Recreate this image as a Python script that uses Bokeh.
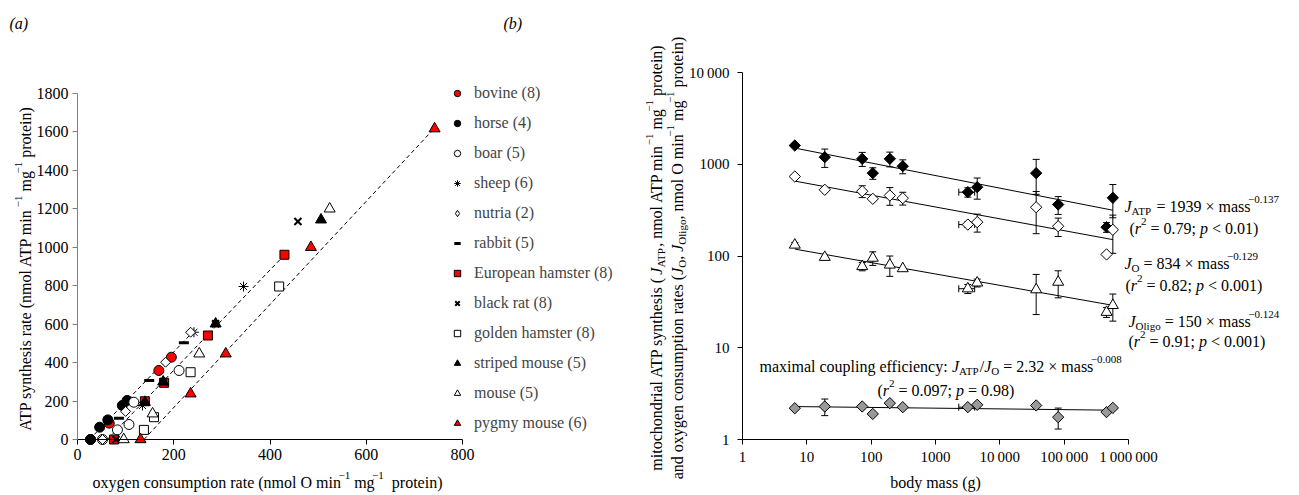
import numpy as np
from bokeh.plotting import figure
from bokeh.models import (Range1d, FixedTicker, Label, Legend, LegendItem, LinearAxis,
                          LogAxis, Whisker, TeeHead, ColumnDataSource)
from bokeh.layouts import row
from bokeh.embed import file_html
from bokeh.resources import INLINE

# ---------------- panel (a) data ----------------
bovine_x = [27, 66, 169, 195]
bovine_y = [0, 85, 359, 428]
horse_x = [27, 46, 63, 93, 103]
horse_y = [0, 64, 102, 177, 203]
boar_x = [52, 83, 107, 117, 211]
boar_y = [0, 50, 78, 194, 359]
sheep_x = [135, 242, 345]
sheep_y = [177, 558, 796]
nutria_x = [52, 100, 183, 235]
nutria_y = [0, 146, 402, 558]
rabbit_x = [86, 149, 221]
rabbit_y = [111, 307, 503]
euhamster_x = [76, 140, 180, 271, 430]
euhamster_y = [0, 199, 295, 541, 961]
blackrat_x = [80, 178, 287, 458]
blackrat_y = [0, 300, 602, 1134]
goldhamster_x = [138, 159, 235, 419]
goldhamster_y = [50, 116, 350, 796]
stripedmouse_x = [140, 178, 287, 506]
stripedmouse_y = [194, 300, 602, 1143]
mouse_x = [96, 156, 253, 524]
mouse_y = [0, 134, 446, 1200]
pygmy_x = [131, 235, 308, 485, 742]
pygmy_y = [0, 238, 446, 1000, 1617]
species_labels = ["bovine (8)", "horse (4)", "boar (5)", "sheep (6)", "nutria (2)",
                  "rabbit (5)", "European hamster (8)", "black rat (8)",
                  "golden hamster (8)", "striped mouse (5)", "mouse (5)", "pygmy mouse (6)"]

fit_x_start = [25, 62, 138]
fit_x_end = [240, 430, 742]
fit_y_start = [0, 0, 0]
fit_y_end = [560, 960, 1620]

x_ticks_a = [0, 200, 400, 600, 800]
y_ticks_a = [0, 200, 400, 600, 800, 1000, 1200, 1400, 1600, 1800]

# ---------------- panel (b) data ----------------
mass = [6.5, 19, 72.6, 106, 195, 310, 3180, 4450, 36700, 80700, 456000, 571000]
mass_err = [0, 0, 0, 0, 0, 0, 880, 0, 0, 0, 0, 0]
j_atp = [1600, 1194, 1146, 800, 1146, 952, 496, 562, 800, 364, 206, 431]
j_atp_err = [0, 270, 200, 115, 210, 165, 58, 146, 330, 80, 25, 170]
j_o = [735, 527, 508, 420, 457, 427, 220, 234, 340, 211, 104, 193]
j_o_err = [0, 0, 75, 0, 100, 68, 15, 52, 165, 48, 0, 86]
j_oligo = [132, 97, 77, 95, 80, 73, 44, 51, 43, 52, 24.4, 29]
j_oligo_err = [8, 0, 8, 16, 20, 0, 5, 5, 20, 17, 3, 9.5]
coupling = [2.19, 2.29, 2.29, 1.9, 2.49, 2.25, 2.25, 2.39, 2.35, 1.75, 1.99, 2.21]
coupling_err = [0, 0.47, 0, 0, 0, 0, 0, 0, 0, 0.45, 0, 0]
fit_coef = [1939, 834, 150, 2.32]
fit_exp = [-0.137, -0.129, -0.124, -0.008]

x_ticks_b = [1, 10, 100, 1000, 10000, 100000, 1000000]
x_labels_b = ["1", "10", "100", "1000", "10\u2009000", "100\u2009000", "1\u2009000\u2009000"]
y_ticks_b = [1, 10, 100, 1000, 10000]
y_labels_b = ["1", "10", "100", "1000", "10\u2009000"]

# ---------------- layout (pixels) ----------------
FONT = "Liberation Serif"
H = 495
WA, WB = 640, 659
A_L, A_R, A_T, A_B = 77, 462, 93, 439          # panel (a) axes box, in page pixels
B_L, B_R, B_T, B_B = 742 - WA, 1128 - WA, 72, 439  # panel (b) axes box, in its canvas

# Times / Liberation Serif advance widths (per 1000 em)
TR = {' ': 250, '(': 333, ')': 333, ',': 250, '-': 333, '.': 250, '/': 278, ':': 278,
      ';': 278, '<': 564, '=': 564, '\u00d7': 564, '\u2212': 564, '\u00a0': 250}
for _d in '0123456789':
    TR[_d] = 500
TR.update(dict(zip('ABCDEFGHIJKLMNOPQRSTUVWXYZ',
                   [722, 667, 667, 722, 611, 556, 722, 722, 333, 389, 722, 611, 889, 722,
                    722, 556, 722, 667, 556, 611, 722, 722, 944, 722, 722, 611])))
TR.update(dict(zip('abcdefghijklmnopqrstuvwxyz',
                   [444, 500, 444, 500, 444, 333, 500, 500, 278, 278, 500, 278, 778, 500,
                    500, 500, 500, 333, 389, 278, 500, 500, 722, 500, 500, 444])))
TI = dict(TR)
TI.update({'J': 444, 'p': 500, 'r': 389, 'a': 500, 'b': 500})


def rich(p, segs, px, py, size=16, angle=0.0, align="left"):
    """Place a run of text segments; px, py are canvas pixels (py = baseline, from top)."""
    x, y = px, H - py
    small = round(size * 0.7)

    def sw(t, k):
        fs = small if k in ("sub", "sup") else size
        tbl = TI if k == "i" else TR
        return sum(tbl.get(c, 500) for c in t) * fs / 1000.0

    total = sum(sw(t, k) for t, k in segs)
    d = -total / 2.0 if align == "center" else 0.0
    for t, k in segs:
        fs = small if k in ("sub", "sup") else size
        shift = -0.25 * size if k == "sub" else (0.42 * size if k == "sup" else 0.0)
        if k == "sup" and t.startswith("\u2212"):
            d -= 2.5
        lead = len(t) - len(t.lstrip(' '))
        d += sw(t[:lead], k)
        core = t.strip(' ')
        if angle == 0:
            lx, ly = x + d, y + shift
        else:
            lx, ly = x - shift, y + d
        if core:
            p.add_layout(Label(x=lx, y=ly, x_units="screen", y_units="screen", text=core,
                               angle=angle, text_font=FONT, text_font_size=f"{fs}px",
                               text_font_style="italic" if k == "i" else "normal",
                               text_baseline="alphabetic", text_align="left",
                               text_color="black"))
        d += sw(t[lead:], k)


def style_axis(ax, color="black", label_size="16px", standoff=4):
    ax.axis_line_color = color
    ax.major_tick_line_color = color
    ax.minor_tick_line_color = None
    ax.major_tick_out = 5
    ax.major_tick_in = 0
    ax.major_label_standoff = standoff
    ax.major_label_text_font = FONT
    ax.major_label_text_font_size = label_size
    ax.major_label_text_color = "black"


def bare(p):
    p.xgrid.visible = False
    p.ygrid.visible = False
    p.outline_line_color = None
    p.background_fill_color = "white"
    p.border_fill_color = "white"


# ---------------- panel (a) ----------------
sx_a = (A_R - A_L) / (x_ticks_a[-1] - x_ticks_a[0])
sy_a = (A_B - A_T) / (y_ticks_a[-1] - y_ticks_a[0])
pa = figure(width=WA, height=H, min_border=0, title=None,
            x_range=Range1d(-A_L / sx_a, (WA - A_L) / sx_a),
            y_range=Range1d(-(H - A_B) / sy_a, A_B / sy_a),
            x_axis_location=None, y_axis_location=None,
            output_backend="svg", toolbar_location=None)
bare(pa)
xa = LinearAxis(fixed_location=0, bounds=(0, 800), ticker=FixedTicker(ticks=x_ticks_a))
ya = LinearAxis(fixed_location=0, bounds=(0, 1800), ticker=FixedTicker(ticks=y_ticks_a))
style_axis(xa, "black")
style_axis(ya, "#808080")
pa.add_layout(xa, "below")
pa.add_layout(ya, "left")

pa.segment(x0=fit_x_start, y0=fit_y_start, x1=fit_x_end, y1=fit_y_end,
           line_color="black", line_width=1, line_dash="4 3")

series_a = [
    (bovine_x, bovine_y, dict(marker="circle", size=10, fill_color="red", line_color="black")),
    (horse_x, horse_y, dict(marker="circle", size=10, fill_color="black", line_color="black")),
    (boar_x, boar_y, dict(marker="circle", size=10, fill_color="white", line_color="black")),
    (sheep_x, sheep_y, dict(marker="asterisk", size=10, line_color="black", line_width=1)),
    (nutria_x, nutria_y, dict(marker="square", angle=np.pi / 4, size=7, fill_color="white", line_color="black")),
    (rabbit_x, rabbit_y, dict(marker="dash", size=10, line_color="black", line_width=3)),
    (euhamster_x, euhamster_y, dict(marker="square", size=9, fill_color="red", line_color="black")),
    (blackrat_x, blackrat_y, dict(marker="x", size=10, line_color="black", line_width=2)),
    (goldhamster_x, goldhamster_y, dict(marker="square", size=9, fill_color="white", line_color="black")),
    (stripedmouse_x, stripedmouse_y, dict(marker="triangle", size=11, fill_color="black", line_color="black")),
    (mouse_x, mouse_y, dict(marker="triangle", size=11, fill_color="white", line_color="black")),
    (pygmy_x, pygmy_y, dict(marker="triangle", size=11, fill_color="red", line_color="black")),
]
items = []
for (xs, ys, st), lab in zip(series_a, species_labels):
    r = pa.scatter(xs, ys, **st)
    if st.get("angle"):
        # legend glyphs are drawn unrotated: show a diamond marker there instead
        r = pa.scatter(xs, ys, marker="diamond", size=12, fill_color="white",
                       line_color="black", visible=False)
    items.append(LegendItem(label=lab, renderers=[r]))

legend = Legend(items=items, location=(449, H - 433), orientation="vertical", glyph_width=16,
                glyph_height=20, label_height=20, spacing=10, label_standoff=9, padding=0,
                margin=0, border_line_color=None, background_fill_alpha=0,
                inactive_fill_alpha=0,
                label_text_font=FONT, label_text_font_size="16px")
pa.add_layout(legend)

rich(pa, [("ATP synthesis rate (nmol ATP min", "n"), ("\u22121", "sup"), (" mg", "n"),
          ("\u22121", "sup"), (" protein)", "n")], 25, 266, angle=np.pi / 2, align="center")
rich(pa, [("oxygen consumption rate (nmol O min", "n"), ("\u22121", "sup"), (" mg", "n"),
          ("\u22121", "sup"), ("\u00a0 protein)", "n")], (A_L + A_R) / 2, 482, align="center")
rich(pa, [("(a)", "i")], 9, 23)
rich(pa, [("(b)", "i")], 503, 23)

# ---------------- panel (b) ----------------
dec_x = (B_R - B_L) / 6.0
dec_y = (B_B - B_T) / 4.0
pb = figure(width=WB, height=H, min_border=0, title=None,
            x_axis_type="log", y_axis_type="log",
            x_range=Range1d(10 ** (-B_L / dec_x), 10 ** (6 + (WB - B_R) / dec_x)),
            y_range=Range1d(10 ** (-(H - B_B) / dec_y), 10 ** (4 + B_T / dec_y)),
            x_axis_location=None, y_axis_location=None,
            output_backend="svg", toolbar_location=None)
bare(pb)
xb = LogAxis(fixed_location=1, bounds=(1, 1e6), ticker=FixedTicker(ticks=x_ticks_b))
yb = LogAxis(fixed_location=1, bounds=(1, 1e4), ticker=FixedTicker(ticks=y_ticks_b))
xb.major_label_overrides = dict(zip(x_ticks_b, x_labels_b))
yb.major_label_overrides = dict(zip(y_ticks_b, y_labels_b))
style_axis(xb, "black", "15px", 4)
style_axis(yb, "black", "15px", 8)
pb.add_layout(xb, "below")
pb.add_layout(yb, "left")

vals = [j_atp, j_o, j_oligo, coupling]
errs = [j_atp_err, j_o_err, j_oligo_err, coupling_err]
vx, vlo, vhi = [], [], []
hy, hlo, hhi = [], [], []
for v, e in zip(vals, errs):
    for m, val, er, mer in zip(mass, v, e, mass_err):
        if er > 0:
            vx.append(m); vlo.append(val - er); vhi.append(val + er)
        if mer > 0:
            hy.append(val); hlo.append(m - mer); hhi.append(m + mer)

pb.add_layout(Whisker(source=ColumnDataSource(dict(x=vx, lo=vlo, hi=vhi)), base="x",
                      lower="lo", upper="hi", dimension="height", level="underlay",
                      line_color="black", line_width=1,
                      upper_head=TeeHead(size=7, line_color="black", line_width=1),
                      lower_head=TeeHead(size=7, line_color="black", line_width=1)))
pb.add_layout(Whisker(source=ColumnDataSource(dict(y=hy, lo=hlo, hi=hhi)), base="y",
                      lower="lo", upper="hi", dimension="width", level="underlay",
                      line_color="black", line_width=1,
                      upper_head=TeeHead(size=7, line_color="black", line_width=1),
                      lower_head=TeeHead(size=7, line_color="black", line_width=1)))

mlo, mhi = min(mass), max(mass)
for a, b in zip(fit_coef, fit_exp):
    pb.line([mlo, mhi], [a * mlo ** b, a * mhi ** b], line_color="black", line_width=1)

pb.scatter(mass, j_atp, marker="square", angle=np.pi / 4, size=8, fill_color="black", line_color="black")
pb.scatter(mass, j_o, marker="square", angle=np.pi / 4, size=8, fill_color="white", line_color="black")
pb.scatter(mass, j_oligo, marker="triangle", size=11, fill_color="white", line_color="black")
pb.scatter(mass, coupling, marker="square", angle=np.pi / 4, size=8, fill_color="#999999", line_color="black")

rich(pb, [("mitochondrial ATP synthesis (", "n"), ("J", "i"), ("ATP", "sub"),
          (", nmol ATP min", "n"), ("\u22121", "sup"), (" mg", "n"), ("\u22121", "sup"),
          (" protein)", "n")], 656 - WA, 255, angle=np.pi / 2, align="center")
rich(pb, [("and oxygen consumption rates (", "n"), ("J", "i"), ("O", "sub"), (", ", "n"),
          ("J", "i"), ("Oligo", "sub"), (", nmol O min", "n"), ("\u22121", "sup"), (" mg", "n"),
          ("\u22121", "sup"), (" protein)", "n")], 677 - WA, 255, angle=np.pi / 2, align="center")
rich(pb, [("body mass (g)", "n")], (B_L + B_R) / 2, 482, align="center")

rich(pb, [("J", "i"), ("ATP", "sub"), (" = 1939 \u00d7 mass", "n"), ("\u22120.137", "sup")], 1124 - WA, 206)
rich(pb, [("(", "n"), ("r", "i"), ("2", "sup"), (" = 0.79; ", "n"), ("p", "i"), (" < 0.01)", "n")], 1129 - WA, 228)
rich(pb, [("J", "i"), ("O", "sub"), (" = 834 \u00d7 mass", "n"), ("\u22120.129", "sup")], 1124 - WA, 263)
rich(pb, [("(", "n"), ("r", "i"), ("2", "sup"), (" = 0.82; ", "n"), ("p", "i"), (" < 0.001)", "n")], 1125 - WA, 285)
rich(pb, [("J", "i"), ("Oligo", "sub"), (" = 150 \u00d7 mass", "n"), ("\u22120.124", "sup")], 1128 - WA, 321)
rich(pb, [("(", "n"), ("r", "i"), ("2", "sup"), (" = 0.91; ", "n"), ("p", "i"), (" < 0.001)", "n")], 1128 - WA, 341)
rich(pb, [("maximal coupling efficiency: ", "n"), ("J", "i"), ("ATP", "sub"), ("/", "n"),
          ("J", "i"), ("O", "sub"), (" = 2.32 \u00d7 mass", "n"), ("\u22120.008", "sup")], 759 - WA, 366)
rich(pb, [("(", "n"), ("r", "i"), ("2", "sup"), (" = 0.097; ", "n"), ("p", "i"), (" = 0.98)", "n")], 877 - WA, 390)

layout = row(pa, pb)
open("out.html", "w").write(file_html(layout, INLINE))
